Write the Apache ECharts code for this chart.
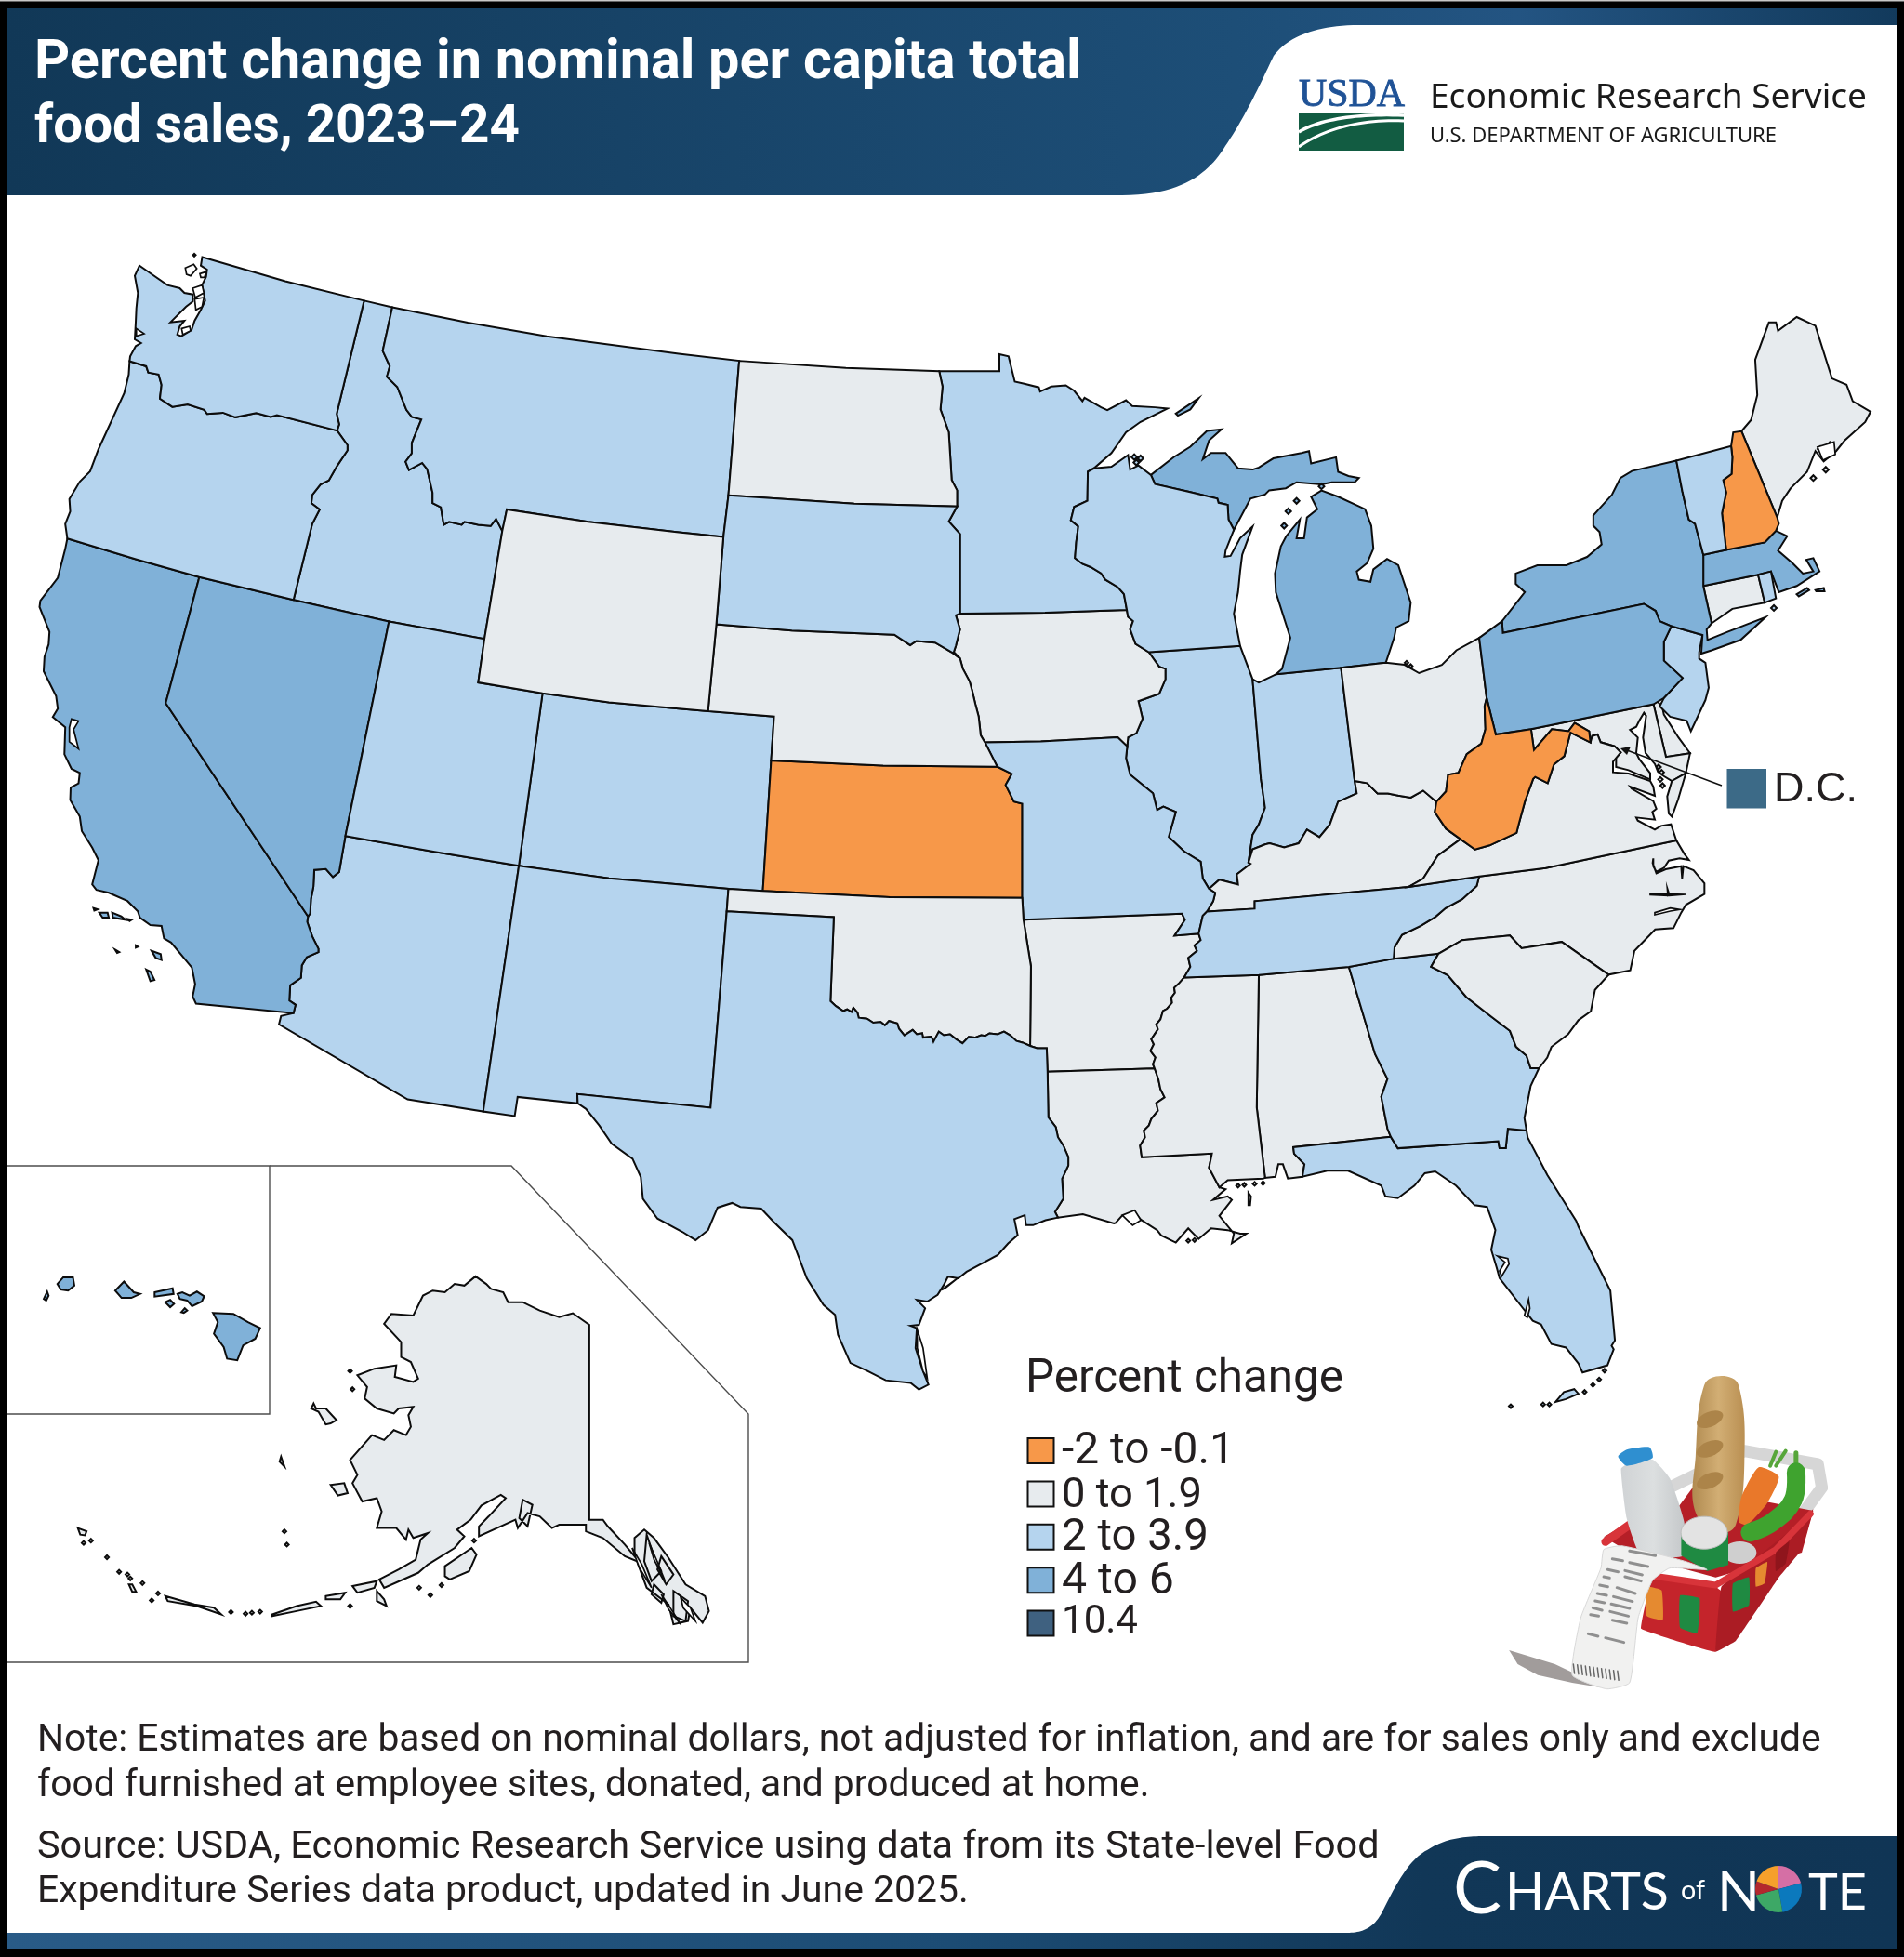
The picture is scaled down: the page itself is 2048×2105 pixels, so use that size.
<!DOCTYPE html>
<html><head><meta charset="utf-8">
<style>html,body{margin:0;padding:0;background:#000}#c{width:2048px;height:2105px}</style>
<script src="https://cdn.jsdelivr.net/npm/echarts@6/dist/echarts.min.js"></script>
</head><body><div id="c"></div>
<script>
// ---------- DATA ----------
const titleLines=["Percent change in nominal per capita total","food sales, 2023–24"];
const legendTitle="Percent change";
const binLabels=["-2 to -0.1","0 to 1.9","2 to 3.9","4 to 6","10.4"];
const binMin=[-2,0,2,4,10.4];
const binMax=[-0.1,1.9,3.9,6,10.4];
const binColors=["#f79849","#e7ebee","#b5d4ee","#80b1d8","#3f6180"];
const stateNames=["Alabama","Alaska","Arizona","Arkansas","California","Colorado","Connecticut","Delaware","District of Columbia","Florida","Georgia","Hawaii","Idaho","Illinois","Indiana","Iowa","Kansas","Kentucky","Louisiana","Maine","Maryland","Massachusetts","Michigan","Minnesota","Mississippi","Missouri","Montana","Nebraska","Nevada","New Hampshire","New Jersey","New Mexico","New York","North Carolina","North Dakota","Ohio","Oklahoma","Oregon","Pennsylvania","Rhode Island","South Carolina","South Dakota","Tennessee","Texas","Utah","Vermont","Virginia","Washington","West Virginia","Wisconsin","Wyoming"];
const stateValues=[1,1,3,1,5,3,1,1,10.4,3,3,5,3,3,3,1,-1,1,1,1,1,5,5,3,1,3,3,1,5,-1,3,3,5,1,1,1,1,3,5,3,1,3,3,3,3,3,1,3,-1,3,1];
const noteLines=["Note: Estimates are based on nominal dollars, not adjusted for inflation, and are for sales only and exclude","food furnished at employee sites, donated, and produced at home."];
const sourceLines=["Source: USDA, Economic Research Service using data from its State-level Food","Expenditure Series data product, updated in June 2025."];

// ---------- MAP OUTLINES (drawing geometry for the registered map) ----------
const conv=(ox,oy,sx,sy)=>a=>{const r=[];for(let i=0;i<a.length;i+=2)r.push([ox+a[i]/sx,oy+a[i+1]/sy]);return r;};
const Z2=conv(30,260,2.24,2.24),Z3=conv(700,360,2.24,2.24),Z4=conv(1350,320,2.24,2.24),Z5=conv(30,900,2.24,2.24),
      Z6=conv(600,950,2.24,2.8),Z7=conv(1200,950,2.24,2.613),Z8=conv(0,1240,1.912,2.8),Z9=conv(1080,1440,1.62,3),
      Z11=conv(1680,760,3,3),Z12=conv(130,265,3,3);
const arcs={};
const A=(n,...p)=>{arcs[n]=[].concat(...p);};
A('wa_n',Z2([420,37,620,95,810,142]));
A('id_n',Z2([810,142,878,158]));
A('mt_n',Z2([878,158,1060,195,1250,228,1568,270]),Z3([213,63]));
A('wa_coast',Z2([420,37]),Z12([258,62,278,75,275,98,262,125,272,175,258,205,238,240,228,270,195,290,182,285,190,258,205,240,160,245,210,195,232,178,232,155,205,150,190,135,150,125,100,90,60,62,45,95,55,150,50,200,48,245,45,300,65,312,48,322,30,355]),Z2([245,288]));
A('wa_or',Z2([245,288,285,300,290,315,315,320,322,345,318,378,348,398,385,392,425,405,432,415,470,412,500,423,550,413,585,422,600,418,745,455]));
A('wa_id',Z2([810,142,744,415,750,440,745,455]));
A('or_coast',Z2([245,288,243,320,232,365,170,500,150,553,125,578,100,620,102,650,90,680,95,715]));
A('or_id',Z2([745,455,770,490,770,503,745,540,725,575,705,585,685,610,683,630,703,645,685,680,640,863]));
A('or_ca',Z2([95,715,260,765,413,808]));
A('or_nv',Z2([413,808,640,863]));
A('id_nv',Z2([640,863,870,915]));
A('id_ut',Z2([870,915,1100,957]));
A('id_mt',Z2([878,158,855,263,872,300,865,325,890,350,912,405,925,422,948,428,925,485,925,510,910,530,918,550,950,533,962,548,975,605,975,630,995,640,1002,682,1015,675,1045,682,1052,675,1085,682,1115,685,1128,668,1143,697]));
A('id_wy',Z2([1143,697,1100,957]));
A('mt_wy',Z2([1143,697,1154,645,1350,675,1568,700]),Z3([175,487]));
A('wy_ut1',Z2([1100,957,1085,1062]));
A('wy_ut2',Z2([1085,1062,1240,1088]));
A('wy_co',Z2([1240,1088,1400,1110,1568,1125]),Z3([138,907]));
A('mt_nd',Z3([213,63,187,387]));
A('mt_sd',Z3([187,387,175,487]));
A('wy_sd',Z3([175,487,158,698]));
A('wy_ne',Z3([158,698,138,907]));
A('nd_n',Z3([213,63,470,80,695,88]));
A('nd_sd',Z3([187,387,490,407,738,414]));
A('nd_mn',Z3([695,88,703,125,698,180,718,235,722,300,725,350,738,375,738,414]));
A('sd_mn',Z3([738,414,718,450,745,480,745,672]));
A('sd_ia',Z3([745,672,735,676,745,710,735,750,730,765,745,780]));
A('ne_sd',Z3([158,698,340,713,587,723,625,748,640,738,685,742,725,765,745,780]));
A('ne_ia',Z3([745,780,752,805,768,835,775,860,782,890,790,920,795,965,805,982]));
A('ne_mo',Z3([805,982,835,1041]));
A('ks_mo',Z3([835,1041,870,1058,855,1085,875,1125,895,1130,895,1357]));
A('ne_ks',Z3([290,1026,560,1038,835,1041]));
A('ne_co',Z3([138,907,297,920]));
A('ne_co2',Z3([297,920,290,1026]));
A('co_ks',Z3([290,1026,270,1340]));
A('co_ok',Z3([270,1340,187,1335]));
A('co_nm',Z3([187,1335]),Z5([1400,100,1183,70]));
A('ut_co',Z2([1240,1088,1182,1502]));
A('ut_az',Z2([1182,1502,980,1470,765,1432]));
A('nv_ut',Z2([870,915,765,1432]));
A('nv_az',Z2([765,1432]),Z5([750,85,735,97,718,78,690,80,688,120,682,150,680,185,675,192]));
A('ca_nv',Z2([413,808,332,1112]),Z5([675,192]));
A('ca_az',Z5([675,192,673,205,685,240,700,270,700,278,672,290,660,310,658,340,632,358,630,395,645,405,640,425]));
A('ca_mx',Z5([640,425,405,402]));
A('ca_coast',Z2([95,715,90,740,72,810,30,865,28,880,52,940,50,970,40,1000,38,1035,68,1095,72,1125,60,1145,90,1170,88,1235,105,1270,125,1280,122,1305,103,1315,102,1345,125,1385,130,1420,155,1460,170,1490,155,1550]),Z5([155,115,165,128,195,135,240,155,265,180,270,195,295,213,322,215,328,245,345,255,395,315,403,355,397,385,405,402]));
A('az_nm',Z5([1183,70,1097,662]));
A('az_mx',Z5([640,425,610,432,605,452,915,633,1097,662]));
A('nm_ok',Z6([412,20,407,85]));
A('nm_tx',Z6([407,85,368,676,47,635,48,663]));
A('nm_mx',Z6([48,663]),Z5([1180,627,1173,673,1097,662]));
A('ok_tx',Z6([407,85,665,102,657,355,670,370,688,385,697,380,708,388,712,375,722,390,725,405,745,408,760,420,778,418,788,428,798,415,818,422,822,438,835,458,855,442,865,455,878,452,880,465,900,462,905,478,918,447,930,458,945,455,960,470,975,482,990,463,1005,465,1020,458,1030,460,1040,452,1060,455,1075,447,1090,458,1105,475,1120,480,1138,490]));
A('ok_ar',Z6([1122,110,1140,250,1138,490]));
A('ok_mo',Z6([1120,45,1122,110]));
A('ks_ok',Z6([495,25,800,42,1120,45]));
A('ar_tx',Z6([1138,490,1155,497,1178,497,1180,568]));
A('tx_la',Z6([1180,568,1182,705,1200,735,1205,765,1218,790,1230,825,1230,850,1215,890,1218,950,1198,990,1205,1007]));
A('tx_coast',Z6([1205,1007,1175,1015,1145,1030,1128,1030,1125,1000,1100,1012,1108,1060,1085,1085,1060,1120,985,1170,965,1190,940,1185,930,1210,915,1240,890,1260,865,1255,885,1280,870,1330,850,1333,865,1340,862,1400,880,1470,893,1510,870,1525,850,1505,790,1497,745,1468,705,1445,675,1360,668,1300,640,1270,600,1190,565,1075,520,1020,490,980,440,975,420,963,385,977,362,1045,332,1075,300,1050,240,1010,205,950,200,885,180,830,130,785,100,730,68,680,48,663]));
A('ia_n',Z3([745,672,950,670,1147,663]));
A('mn_n',Z3([695,88,840,88,840,47,862,52,877,113,900,118,935,127,938,137,965,125,1000,122,1020,135,1040,160,1045,152,1085,175,1100,182,1145,158,1160,172,1215,175,1245,178]));
A('mn_sup',Z3([1245,178,1180,210,1145,235,1110,285,1070,320,1053,330]));
A('mn_wi',Z3([1147,663,1140,625,1125,608,1095,590,1085,575,1060,560,1040,552,1022,538,1025,500,1030,462,1012,447,1020,415,1052,400,1053,330]));
A('wi_sup',Z3([1053,330,1068,322,1110,318,1150,290,1155,325,1175,315,1205,338]));
A('wi_up',Z3([1205,338,1215,360,1295,378,1365,395,1368,405,1390,410,1392,445,1405,470]));
A('up_coast',Z3([1205,338,1260,295,1300,270,1340,232,1375,228,1345,255,1330,300,1350,285,1385,285,1415,322,1450,325,1465,320,1500,298,1568,285]),Z4([130,370,135,400,195,385,200,420,225,430,250,435,240,445,185,445,160,450,100,445]),Z3([1530,370,1490,375,1480,385,1445,395,1405,470]));
A('wi_lake',Z3([1405,470,1385,520,1383,535,1397,533,1420,490,1450,462,1425,530,1420,570,1415,620,1405,672,1420,750]));
A('wi_il',Z3([1200,765,1420,750]));
A('ia_wi',Z3([1147,663,1150,680,1162,690,1155,710,1168,745,1200,765]));
A('ia_il',Z3([1200,765,1225,800,1240,805,1240,830,1225,865,1175,883,1185,925,1170,960,1150,970,1148,992]));
A('ia_s',Z3([805,982,940,980,1125,970,1148,992]));
A('il_mo',Z3([1148,992,1145,1020,1155,1060,1210,1105,1220,1145,1235,1137,1265,1150,1248,1210,1285,1245,1325,1270,1330,1310,1345,1335]));
A('il_ky',Z3([1345,1335,1370,1313,1415,1325,1412,1300,1445,1275,1440,1272]));
A('il_lake',Z3([1420,750,1450,830]));
A('il_in',Z3([1450,830,1470,1070,1480,1140,1465,1180,1450,1205,1440,1272]));
A('in_lake',Z3([1450,830,1465,838]),Z4([50,908]));
A('in_mi',Z4([50,908,207,892]));
A('in_oh',Z4([207,892,240,1165]));
A('in_ky',Z4([240,1165,245,1195,200,1215,180,1270,155,1300,125,1282,105,1315,70,1325,35,1315]),Z3([1480,1228,1450,1240,1440,1272]));
A('mo_ky',Z3([1345,1335,1360,1345,1355,1365,1340,1390]));
A('mo_tn',Z3([1320,1443,1330,1400,1340,1390]));
A('mo_ar',Z3([1320,1443,1262,1448,1287,1410,1280,1395,900,1410]));
A('ky_tn',Z3([1340,1390,1455,1383,1455,1365]),Z4([370,1420]));
A('tn_va',Z4([370,1420,540,1395]));
A('ar_tn',Z7([200,145,205,160,190,175,196,190,175,210,180,235,165,265]));
A('ar_ms',Z6([1505,285,1498,300,1485,315,1487,330,1478,345,1480,360,1468,378,1458,385,1452,410,1442,425,1446,440,1430,470,1436,485,1428,505,1440,525,1434,545,1438,558]));
A('ar_la',Z6([1180,568,1438,558]));
A('la_ms1',Z6([1438,558,1447,590,1452,620,1462,645,1442,662,1446,685,1430,710,1424,730,1412,745,1415,765,1403,790,1407,825]));
A('la_ms2',Z7([60,770,232,760,225,800,250,855]));
A('la_coast',Z7([250,855,265,860,235,890,270,880,280,890,250,935,285,985,280,1012,315,985,300,985,270,975,230,970,200,1000,175,970,145,1010,110,990,100,975,60,945,45,925,15,935,0,955]),Z6([1340,1025,1265,997,1205,1007]));
A('ms_coast',Z7([250,855,270,835,355,830,360,828]));
A('ms_al',Z7([345,258,340,630,360,828]));
A('tn_ms',Z7([165,265,345,258]));
A('tn_al',Z7([345,258,562,235]));
A('tn_ga',Z7([562,235,670,212]));
A('ga_nc',Z7([670,212,778,198]));
A('al_ga',Z7([562,235,625,480,655,550,640,600,655,690,663,713]));
A('al_fl',Z7([663,713,428,742,430,760,455,790,450,825]));
A('al_coast',Z7([360,828,385,825,392,790,403,790,415,830,450,825]));
A('fl_coast',Z7([450,825,510,808,560,808,640,850,650,880,680,885,720,850,745,815,770,810,820,850,865,905,895,910,915,975,905,1030,918,1080,925,1110,985,1200,1005,1230,1025,1240,1050,1295,1085,1305,1115,1350,1125,1375,1185,1355,1200,1310,1195,1300,1203,1285,1192,1145,1115,965,1110,950,1040,820,993,715,990,695]));
A('ga_fl',Z7([990,695,945,690,940,745,925,745,922,725,680,745,663,713]));
A('ga_coast',Z7([1020,520,1000,570,985,660,990,695]));
A('ga_sc',Z7([778,198,760,235,800,258,845,320,905,375,950,415,965,460,990,485,1000,520,1020,520]));
A('nc_sc',Z7([778,198,835,160,950,147,978,183,1075,165,1188,257]));
A('sc_coast',Z7([1188,257,1155,300,1145,360,1115,385,1090,425,1050,460,1040,490,1020,520]));
A('tn_nc',Z7([670,212,672,180,690,145,735,120,770,95,795,70,835,45,870,8]),Z4([540,1395]));
A('va_nc',Z4([540,1395,700,1375,1015,1308]));
A('nc_coast',Z11([372,432,395,475,410,495,380,490,345,497,330,520,305,533,295,515,295,490,293,505,305,538,335,525,385,515,388,555,392,515,425,528,460,570,460,605,400,640,385,665,360,715]),Z7([1300,130,1250,190,1240,245,1188,257]));
A('ky_va',Z4([370,1420,405,1400,440,1345,495,1305]));
A('ky_wv',Z4([495,1305,460,1280,433,1240,437,1215]));
A('oh_ky',Z4([437,1215,405,1188,375,1205,345,1200,320,1195,295,1195,270,1170,240,1165]));
A('mi_oh',Z4([207,892,315,880]));
A('oh_n',Z4([315,880,360,885,395,905,450,885,485,850,540,820]));
A('oh_pa',Z4([558,965,540,820]));
A('oh_wv',Z4([558,965,553,985,555,1040,545,1075,510,1100,490,1145,465,1150,460,1190,437,1215]));
A('pa_erie',Z4([540,820,595,780]));
A('ny_pa_w',Z4([595,780,597,808]));
A('ny_pa',Z4([597,808,937,738,965,755,975,780,1003,792]));
A('pa_nj',Z4([1003,792,985,830,985,875,1030,917,985,965]));
A('pa_de',Z4([985,965,960,980]));
A('pa_md',Z4([960,980,665,1040]));
A('pa_wv',Z4([665,1040,580,1053]));
A('pa_wv2',Z4([580,1053,558,965]));
A('wv_md',Z4([665,1040,672,1090,715,1040,755,1045,770,1025,805,1045,808,1072]));
A('wv_va',Z4([808,1072,760,1048,745,1105,720,1125,705,1170,675,1155,670,1160,650,1215,635,1270,630,1290,565,1320,530,1330,495,1305]));
A('va_pot',Z11([92,118,98,95,115,90,125,115,170,128,190,148]));
A('va_coast',Z11([190,148,165,178,165,212,215,216,285,240,295,258,300,288,220,258,225,265,295,305,305,330,292,340,300,365,240,358,245,368,300,397,320,385,352,380,372,432]));
A('md_de',Z4([960,980,990,1107]));
A('de_s',Z4([990,1107,1048,1098]));
A('de_e',Z4([1048,1098,1020,1060,985,1005,982,990,965,966,960,980]));
A('md_rest',Z11([408,148,400,215,355,240,330,225,310,210,300,185,270,150,262,100,272,30,265,20,250,45,240,65,220,75,245,100,240,150,250,170,285,215,285,235,215,205,175,195,175,165,190,148]));
A('nj_coast',Z4([985,965,975,985,1000,1010,1040,1020,1050,1045,1085,970,1093,940,1085,880,1070,870,1070,855,1078,813]));
A('nj_ny',Z4([1078,813,1003,792]));
A('ny_lakes',Z4([595,780,650,710,628,690,628,665,680,645,750,645,800,625,835,595,830,565,815,550,815,525,860,475,880,435,908,418,1015,393]));
A('ny_vt',Z4([1015,393,1030,470,1045,535,1060,545,1080,620]));
A('ny_ma',Z4([1080,620,1080,695]));
A('ny_ct',Z4([1080,695,1100,785]));
A('ny_li',Z4([1100,785,1088,800,1090,825,1140,805,1230,770,1170,825,1100,850,1075,858,1078,813]));
A('vt_n',Z4([1015,393,1147,358]));
A('vt_nh',Z4([1147,358,1150,385,1148,425,1128,440,1135,470,1125,520,1135,608]));
A('ma_vt',Z4([1080,620,1135,608]));
A('nh_n',Z4([1147,358,1152,325,1172,322]));
A('nh_me',Z4([1172,322,1258,530]));
A('nh_coast',Z4([1258,530,1262,545,1255,562]));
A('ma_nh',Z4([1135,608,1228,590,1255,562]));
A('me_coast',Z4([1172,322,1195,295,1210,235,1205,150,1238,60,1255,60,1260,80,1305,47,1350,68,1390,195,1425,210,1440,250,1483,275,1470,300,1420,345,1400,370,1370,395,1350,370,1330,420,1290,460,1270,490,1258,530]));
A('ma_coast',Z4([1255,562,1282,575,1260,610,1295,640,1320,665,1345,660,1328,632,1345,628,1360,660,1305,695,1262,710,1243,660]));
A('ma_ri',Z4([1243,660,1212,668]));
A('ma_ct',Z4([1212,668,1080,695]));
A('ct_ri',Z4([1212,668,1228,735]));
A('ct_coast',Z4([1228,735,1150,750,1100,785]));
A('ri_e',Z4([1243,660,1255,725,1228,735]));
A('mi_coast',Z4([315,880,335,820,340,795,370,780,375,735,345,645,318,630,285,655,278,685,250,680,245,660,270,640,285,605,280,550,265,510,200,480,160,465,135,480,150,510,125,530,118,580,100,580,108,535,75,575,62,600,48,665,50,710,85,820,65,895,50,908]));

// snap arc ends that meet at one junction
(function(){const ends=[];Object.values(arcs).forEach(a=>{[0,a.length-1].forEach(i=>{
  const p=a[i];const h=ends.find(e=>Math.hypot(e[0]-p[0],e[1]-p[1])<4.5);
  if(h){a[i]=h;}else ends.push(p);});});})();

function ring(names){
  const out=[];
  names.forEach((n,k)=>{
    let a=arcs[n];
    if(k===0){
      const nx=arcs[names[1]];const e=a[a.length-1],s=a[0];
      const d=p=>Math.min(Math.hypot(nx[0][0]-p[0],nx[0][1]-p[1]),Math.hypot(nx[nx.length-1][0]-p[0],nx[nx.length-1][1]-p[1]));
      if(d(s)<d(e))a=a.slice().reverse();
    }else{
      const l=out[out.length-1];
      if(Math.hypot(a[0][0]-l[0],a[0][1]-l[1])>Math.hypot(a[a.length-1][0]-l[0],a[a.length-1][1]-l[1]))a=a.slice().reverse();
    }
    out.push(...a);
  });
  return out;
}
const dots=(Z,list,r)=>{const o=[];Z(list).forEach(p=>o.push([[p[0]-r,p[1]],[p[0],p[1]-r],[p[0]+r,p[1]],[p[0],p[1]+r]]));return o;};
const rings={
 "Washington":[['wa_n','wa_id','wa_or','wa_coast']],
 "Oregon":[['wa_or','or_id','or_nv','or_ca','or_coast']],
 "California":[['or_ca','ca_nv','ca_az','ca_mx','ca_coast']],
 "Nevada":[['or_nv','id_nv','nv_ut','nv_az','ca_nv']],
 "Idaho":[['id_n','id_mt','id_wy','id_ut','id_nv','or_id','wa_id']],
 "Montana":[['mt_n','mt_nd','mt_sd','mt_wy','id_mt']],
 "Wyoming":[['mt_wy','wy_sd','wy_ne','wy_co','wy_ut2','wy_ut1','id_wy']],
 "Utah":[['id_ut','wy_ut1','wy_ut2','ut_co','ut_az','nv_ut']],
 "Arizona":[['ut_az','az_nm','az_mx','ca_az','nv_az']],
 "Colorado":[['wy_co','ne_co','ne_co2','co_ks','co_ok','co_nm','ut_co']],
 "New Mexico":[['co_nm','nm_ok','nm_tx','nm_mx','az_nm']],
 "North Dakota":[['nd_n','nd_mn','nd_sd','mt_nd']],
 "South Dakota":[['nd_sd','sd_mn','sd_ia','ne_sd','wy_sd','mt_sd']],
 "Nebraska":[['ne_sd','ne_ia','ne_mo','ne_ks','ne_co2','ne_co','wy_ne']],
 "Kansas":[['ne_ks','ks_mo','ks_ok','co_ks']],
 "Oklahoma":[['nm_ok','ok_tx','ok_ar','ok_mo','ks_ok','co_ok']],
 "Texas":[['nm_tx','ok_tx','ar_tx','tx_la','tx_coast']],
 "Minnesota":[['nd_mn','mn_n','mn_sup','mn_wi','ia_n','sd_mn']],
 "Iowa":[['ia_n','ia_wi','ia_il','ia_s','ne_ia','sd_ia']],
 "Missouri":[['ia_s','il_mo','mo_ky','mo_tn','mo_ar','ok_mo','ks_mo','ne_mo']],
 "Arkansas":[['mo_ar','ar_tn','ar_ms','ar_la','ar_tx','ok_ar']],
 "Louisiana":[['ar_la','la_ms1','la_ms2','la_coast','tx_la']],
 "Wisconsin":[['mn_wi','wi_sup','wi_up','wi_lake','wi_il','ia_wi']],
 "Illinois":[['wi_il','il_lake','il_in','il_ky','il_mo','ia_il']],
 "Michigan":[['in_mi','mi_oh','mi_coast'],['wi_up','up_coast']],
 "Indiana":[['in_lake','in_mi','in_oh','in_ky','il_in']],
 "Ohio":[['mi_oh','oh_n','oh_pa','oh_wv','oh_ky','in_oh']],
 "Kentucky":[['il_ky','in_ky','oh_ky','ky_wv','ky_va','ky_tn','mo_ky']],
 "Tennessee":[['ky_tn','tn_va','tn_nc','tn_ga','tn_al','tn_ms','ar_tn','mo_tn']],
 "Mississippi":[['la_ms1','ar_ms','tn_ms','ms_al','ms_coast','la_ms2']],
 "Alabama":[['tn_al','al_ga','al_fl','al_coast','ms_al']],
 "Georgia":[['tn_ga','ga_nc','ga_sc','ga_coast','ga_fl','al_ga']],
 "Florida":[['ga_fl','al_fl','fl_coast']],
 "South Carolina":[['ga_sc','nc_sc','sc_coast']],
 "North Carolina":[['tn_nc','va_nc','nc_coast','nc_sc','ga_nc']],
 "Virginia":[['ky_va','tn_va','va_nc','va_coast','va_pot','wv_va']],
 "West Virginia":[['pa_wv2','pa_wv','wv_md','wv_va','ky_wv','oh_wv']],
 "Maryland":[['pa_md','md_de','de_s','md_rest','va_pot','wv_md']],
 "Delaware":[['md_de','de_s','de_e']],
 "Pennsylvania":[['pa_erie','ny_pa_w','ny_pa','pa_nj','pa_de','pa_md','pa_wv','pa_wv2','oh_pa']],
 "New Jersey":[['pa_nj','nj_coast','nj_ny']],
 "New York":[['ny_pa_w','ny_lakes','ny_vt','ny_ma','ny_ct','ny_li','nj_ny','ny_pa']],
 "Vermont":[['vt_n','vt_nh','ma_vt','ny_vt']],
 "New Hampshire":[['nh_n','nh_me','nh_coast','ma_nh','vt_nh']],
 "Maine":[['nh_me','me_coast']],
 "Massachusetts":[['ma_vt','ma_nh','ma_coast','ma_ri','ma_ct','ny_ma']],
 "Connecticut":[['ma_ct','ct_ri','ct_coast','ny_ct']],
 "Rhode Island":[['ma_ri','ri_e','ct_ri']]
};
const extra={
 "Alaska":[Z8([978,372,1000,395,1010,410,1035,420,1045,450,1075,450,1110,475,1150,495,1178,483,1212,518,1212,1105,1240,1105,1250,1125,1285,1180,1305,1215,1305,1160,1325,1135,1345,1160,1375,1220,1410,1300,1450,1335,1458,1380,1445,1415,1420,1370,1415,1410,1385,1420,1375,1360,1330,1310,1310,1230,1285,1215,1240,1160,1205,1140,1205,1120,1150,1120,1135,1130,1110,1095,1085,1085,1065,1130,1060,1105,985,1155,985,1125,1005,1095,1040,1040,1030,1030,990,1062,968,1105,940,1135,955,1155,935,1190,880,1240,860,1265,790,1310,780,1285,820,1255,855,1225,865,1165,880,1145,850,1160,840,1135,835,1165,815,1130,790,1130,775,1130,785,1080,775,1040,745,1050,725,995,735,970,720,925,765,850,790,865,810,835,835,850,845,825,840,790,850,765,820,770,810,785,775,770,750,740,755,705,735,670,770,650,815,640,812,675,850,690,860,680,845,630,825,615,825,570,790,515,805,485,850,490,870,430,890,415,915,420,935,395,955,400]),
  Z8([645,755,650,770,670,770,692,805,680,815,670,818,655,780,640,770]),Z8([680,1000,708,995,715,1025,695,1032]),Z8([578,915,585,945,575,930]),
  Z8([915,1245,970,1190,980,1210,965,1260,925,1285,915,1275]),Z8([670,1335,710,1325,700,1345,670,1345]),Z8([725,1305,775,1290,770,1310,735,1325]),
  Z8([560,1390,610,1365,650,1352,660,1365,610,1380,560,1395]),Z8([340,1335,400,1360,440,1370,455,1390,405,1365,345,1350]),Z8([160,1130,178,1140,175,1152,165,1150]),
  Z8([1330,1150,1345,1215,1360,1260,1340,1290,1325,1230]),Z8([1360,1215,1385,1270,1370,1300,1352,1255]),Z8([1385,1320,1415,1350,1410,1410,1385,1395]),Z8([1345,1300,1365,1330,1360,1355,1340,1330]),Z8([1075,1045,1095,1060,1085,1125,1068,1100]),
  Z8([775,1320,790,1345,795,1365,775,1350]),Z8([265,1300,272,1300,280,1322,272,1322]),
  ...dots(Z8,[172,1175,187,1168,220,1218,245,1262,262,1270,268,1282,293,1296,325,1327,312,1348,475,1383,505,1388,518,1385,535,1382,585,1140,590,1180,885,1332,862,1310,720,1365,725,712,720,657,975,1168,908,1302],2)],
 "Hawaii":[Z8([90,440,97,418,100,430,95,445]),Z8([118,395,130,375,150,375,153,400,140,415,125,412]),Z8([237,415,255,388,275,420,288,425,270,437,250,437]),Z8([318,420,355,408,357,425,318,433]),Z8([340,450,350,443,358,455,350,465]),Z8([365,425,375,420,390,430,405,418,420,432,415,448,395,462,385,445,370,440]),Z8([373,480,380,468,385,475,378,482]),Z8([438,482,480,485,510,510,535,528,525,560,500,580,488,625,467,620,460,585,440,545,448,510])],
 "California":[Z5([158,172,168,175,160,178]),Z5([172,183,192,183,195,195,180,195]),Z5([203,183,225,192,235,200,205,195]),Z5([240,198,250,200,245,203]),Z5([298,275,320,283,322,297,308,292]),Z5([285,320,295,325,305,345,295,348]),Z5([210,272,220,278,215,280]),Z5([260,262,265,265,260,267])],
 "Washington":dots(Z12,[237,28],1.5),
 "Michigan":[Z3([1265,190,1320,153,1300,180,1270,195]),...dots(Z4,[100,490,80,515,70,550,160,455],3)],
 "Wisconsin":dots(Z3,[1165,295,1180,298,1170,308],3),
 "Massachusetts":[Z4([1305,715,1330,700,1335,705,1310,720]),Z4([1350,705,1370,700,1372,708,1352,708])],
 "Maine":dots(Z4,[1362,365,1385,355,1375,415,1345,435],3),
 "Rhode Island":dots(Z4,[1250,748],3),
 "Florida":[Z7([1060,1458,1080,1430,1105,1422,1115,1435,1085,1450]),...dots(Z7,[952,1470,1030,1465,1045,1465,1130,1430,1150,1410,1165,1395,1178,1370],2)],
 "Louisiana":dots(Z7,[295,850,310,848,335,845,355,843,175,1005,190,1003],2).concat([Z7([320,870,326,880,324,905,320,905])]),
 "Ohio":dots(Z4,[365,880,375,888],2),
 "Virginia":[Z11([355,240,400,215,375,300,355,355,345,345,340,290])],
 "Maryland":dots(Z11,[318,235,325,255,312,195,322,212],2.5),
 "District of Columbia":[Z11([175,122,190,128,190,140,178,135])]
};
// water shapes laid over the land: white, with the same outline
const waterPolys=[
 Z12([208,70,235,58,245,72,225,95,212,90]),Z12([255,88,275,82,270,100,258,100]),Z12([232,135,262,125,268,150,240,165]),Z12([238,170,268,165,262,195,242,205]),Z12([50,265,75,282,50,290]),Z12([196,265,222,258,225,272,200,285]),
 Z2([105,1150,122,1155,110,1175,122,1222,100,1205,100,1170]),
 Z7([920,1048,945,1055,948,1070,930,1105,925,1090,938,1065]),Z7([985,1215,995,1170,998,1195,992,1220]),
 Z6([866,1345,880,1400,890,1490,880,1470,866,1400]),Z6([925,1225,965,1188,935,1218]),Z6([1360,1000,1390,985,1405,1015,1385,1030]),
 Z11([285,603,345,605,400,606,345,610,285,607]),Z11([300,665,350,650,380,655,350,660,300,672]),Z11([340,585,347,607,342,610]),
 Z4([1355,360,1395,348,1398,378,1368,392]),
 Z8([1335,1175,1350,1225,1368,1290,1345,1225]),Z8([1300,1190,1320,1240,1340,1310,1315,1250]),Z8([1360,1330,1385,1385,1400,1420,1375,1375]),Z8([1400,1340,1420,1370,1430,1410,1405,1370])
];
const features=stateNames.map(name=>{
  const polys=[];
  (rings[name]||[]).forEach(r=>polys.push(ring(r)));
  (extra[name]||[]).forEach(p=>polys.push(p));
  return {type:'Feature',properties:{name},geometry:{type:'MultiPolygon',coordinates:polys.map(p=>{const c=p.map(q=>[q[0],-q[1]]);c.push(c[0]);return [c];})}};
});
echarts.registerMap('usStates',{type:'FeatureCollection',features});
echarts.registerMap('usWater',{type:'FeatureCollection',features:[{type:'Feature',properties:{name:'water'},geometry:{type:'MultiPolygon',coordinates:waterPolys.map(p=>{const c=p.map(q=>[q[0],-q[1]]);c.push(c[0]);return [c];})}}]});

// ---------- TEXT HELPERS ----------
const ctx=document.createElement('canvas').getContext('2d');
const fitSize=(t,fam,wt,w)=>{ctx.font=wt+' 100px "'+fam+'"';return 100*w/ctx.measureText(t).width;};
const body='Roboto';
const mid={'Roboto':0.20,'Noto Sans':0.27,'Lato':0.26};
const g=[];
function T(t,x,base,w,fam,wt,col,z,extraStyle){const fs=fitSize(t,fam,wt,w);
  g.push({type:'text',z:z||3,silent:true,style:Object.assign({text:t,x:x,y:base-(mid[fam]||0.345)*fs,fill:col||'#231f20',fontSize:fs,fontFamily:fam,fontWeight:wt,align:'left',verticalAlign:'middle'},extraStyle||{})});return fs;}
// flatten a small M/H/V/C/Z outline into points for a polygon or polyline
function flatten(d){
  const t=d.match(/[MHVCZ]|-?[\d.]+/g);let i=0,x=0,y=0;const pts=[];let c='';
  const n=()=>parseFloat(t[i++]);
  while(i<t.length){
    if(/[MHVCZ]/.test(t[i]))c=t[i++];
    if(c==='Z')break;
    if(c==='M'){x=n();y=n();pts.push([x,y]);}
    else if(c==='H'){x=n();pts.push([x,y]);}
    else if(c==='V'){y=n();pts.push([x,y]);}
    else if(c==='C'){const a=n(),b=n(),e=n(),f=n(),g2=n(),h=n();
      for(let k=1;k<=24;k++){const s=k/24,u=1-s;pts.push([u*u*u*x+3*u*u*s*a+3*u*s*s*e+s*s*s*g2,u*u*u*y+3*u*u*s*b+3*u*s*s*f+s*s*s*h]);}
      x=g2;y=h;}
  }
  return pts;
}
const pathEl=(d,fill,z,st)=>g.push({type:st?'polyline':'polygon',silent:true,z:z,shape:{points:flatten(d)},style:Object.assign({fill:st?'none':fill},st||{})});
const grad=(stops,x2,y2)=>({type:'linear',x:0,y:0,x2:x2==null?1:x2,y2:y2||0,colorStops:stops.map(s=>({offset:s[0],color:s[1]}))});

// page frame
g.push({type:'rect',z:0,silent:true,shape:{x:8,y:9,width:2032,height:2087},style:{fill:'#fff'}});
g.push({type:'rect',z:0,silent:true,shape:{x:0,y:0,width:2048,height:1.5},style:{fill:'#c8c8c8'}});
pathEl('M8,9 H2040 V27 H1468 C1415,26 1385,40 1370,60 C1358,85 1340,125 1318,157 C1305,178 1280,210 1207,210 H8 Z',
  grad([[0,'#113857'],[0.65,'#1d4e77'],[0.8,'#235482'],[1,'#123a5c']]),1);
pathEl('M8,2079 H1449 C1468,2079 1478,2072 1486,2058 C1500,2030 1515,2000 1535,1990 C1555,1977 1575,1975 1600,1975 H2040 V2096 H8 Z',
  grad([[0,'#295b87'],[0.5,'#1c4c74'],[0.75,'#113757'],[1,'#103555']]),1);

// USDA block
T('USDA',1397,117,114,'Liberation Serif','normal','#1f5296',3,{stroke:'#1f5296',lineWidth:0.9});
g.push({type:'rect',z:2,silent:true,shape:{x:1397,y:122,width:113,height:40},style:{fill:'#125c42'}});
pathEl('M1397,142 C1420,128 1460,122 1510,124',null,3,{stroke:'#fff',lineWidth:3.5});
pathEl('M1397,158 C1425,138 1465,128 1510,130',null,3,{stroke:'#fff',lineWidth:3});
T('Economic Research Service',1538,115,470,'Noto Sans','normal','#1a1a1a');
T('U.S. DEPARTMENT OF AGRICULTURE',1538,153,373,'Noto Sans','normal','#1a1a1a');

// insets
const frame={type:'polyline',z:2,silent:true,style:{fill:'none',stroke:'#4d4d4d',lineWidth:1.4}};
g.push(Object.assign({},frame,{shape:{points:[[8,1254],[290,1254],[290,1521],[8,1521]]}}));
g.push(Object.assign({},frame,{shape:{points:[[290,1254],[550,1254],[805,1521],[805,1788],[8,1788]]}}));

// legend
T(legendTitle,1103,1495,342,body,'normal');
binLabels.forEach((lab,i)=>{
  const y=1547+i*46.4;
  g.push({type:'rect',z:3,silent:true,shape:{x:1105.5,y:y,width:28,height:27},style:{fill:binColors[i],stroke:'#111',lineWidth:2}});
  const w=[186,151,158,121,82][i];
  T(lab,1142,y+(i===4?21:25),w,body,'normal');
});

// D.C. callout
g.push({type:'rect',z:3,silent:true,shape:{x:1857.5,y:827,width:42.5,height:42.5},style:{fill:'#3c6a87'}});
T('D.C.',1908,865,90,'Liberation Sans','normal');
g.push({type:'line',z:5,silent:true,shape:{x1:1750,y1:807,x2:1852,y2:845},style:{stroke:'#111',lineWidth:1.6}});
g.push({type:'polygon',z:5,silent:true,shape:{points:[[1743,805],[1754,803],[1750,812]]},style:{fill:'#111'}});

// notes
T(noteLines[0],40,1881,1919,body,'normal');
T(noteLines[1],40,1930,1197,body,'normal');
T(sourceLines[0],40,1996,1444,body,'normal');
T(sourceLines[1],40,2044,1002,body,'normal');

// Charts of Note
T('C',1563,2053,52,'Lato','normal','#fff');
T('HARTS',1619,2051,176,'Lato','normal','#fff');
T('of',1808,2041,26,'Lato','normal','#fff');
T('N',1847,2051,46,'Lato','normal','#fff');
T('TE',1945,2051,63,'Lato','normal','#fff');
const deg=d=>d*Math.PI/180;
[[-90,-15,'#d56fa5'],[-15,80,'#0b79bd'],[80,165,'#3da866'],[165,200,'#b3282d'],[200,270,'#f6a02b']].forEach(s=>
 g.push({type:'sector',z:3,silent:true,shape:{cx:1913,cy:2032,r:25,r0:0,startAngle:deg(s[0]),endAngle:deg(s[1])},style:{fill:s[2]}}));

// basket illustration
const poly=(Z,pts,fill,z,sm,st)=>g.push({type:'polygon',silent:true,z:z,shape:{points:Z(pts),smooth:sm||0},style:Object.assign({fill:fill},st||{})});
const line=(Z,pts,col,w,z,sm)=>g.push({type:'polyline',silent:true,z:z,shape:{points:Z(pts),smooth:sm||0},style:{fill:'none',stroke:col,lineWidth:w,lineCap:'round',lineJoin:'round'}});
const oval=(cx,cy,rx,ry,fill,z,rot,st)=>{const q=Z9([cx,cy])[0];g.push({type:'ellipse',silent:true,z:z,x:q[0],y:q[1],rotation:rot||0,shape:{cx:0,cy:0,rx:rx,ry:ry},style:Object.assign({fill:fill},st||{})});};
poly(Z9,[880,1005,960,1050,1000,1085,1040,1125,990,1110,930,1085,895,1050],'#a19c9b',3);
line(Z9,[1160,480,1290,362,1418,405,1425,480,1350,670],'#d6d6d6',13,3);
poly(Z9,[1045,640,1090,590,1150,605,1200,480,1410,555,1390,690,1240,770,1100,700],'#b51f27',3);
poly(Z9,[1205,380,1220,150,1250,120,1280,150,1290,400,1275,600,1250,625,1205,560],grad([[0,'#b08a50'],[0.5,'#d2ae74'],[1,'#b98f52']]),4,0.4);
oval(1230,260,15,8,'#ac8449',5,0.4);oval(1230,355,15,8,'#ac8449',5,0.4);oval(1230,458,15,8,'#ac8449',5,0.4);
poly(Z9,[1315,415,1350,445,1330,530,1295,600,1280,590,1285,510],'#e9782a',4,0.2);
line(Z9,[1335,410,1345,365],'#57a63a',4,4);line(Z9,[1345,410,1362,362],'#57a63a',4,4);line(Z9,[1380,430,1380,368],'#57a63a',5,4);
line(Z9,[1380,430,1375,520,1340,590,1300,625],'#3fa32f',20,5,0.4);
poly(Z9,[1075,420,1085,405,1130,390,1160,450,1185,590,1185,700,1110,700,1085,580],grad([[0,'#d0d3d5'],[0.5,'#dcdfe0'],[1,'#c4c7c9']]),5,0.15);
poly(Z9,[1070,380,1085,358,1125,350,1130,385,1085,410],'#2f8fd0',6,0.2);
oval(1282,690,18,12,'#cfcfcf',5);
poly(Z9,[1180,625,1262,625,1262,730,1225,750,1180,700],'#1f8a42',6);
oval(1220,626,25,17.5,'#e3e3e3',7,0,{stroke:'#bdbdbd',lineWidth:1});
poly(Z9,[1130,770,1240,800,1250,815,1240,1010,1110,935],'#c4242b',7,0.05);
poly(Z9,[1250,800,1390,590,1410,550,1390,680,1350,770,1275,975,1240,1010],'#ab1c24',7,0.05);
line(Z9,[1130,765,1240,795,1345,680,1405,565],'#d8343a',7,8);
line(Z9,[1048,655,1090,600],'#d8343a',9,4);
poly(Z9,[1178,828,1212,838,1208,950,1178,932],'#1f8a42',8,0.1);poly(Z9,[1120,800,1146,812,1148,908,1120,895],'#e58a30',8,0.1);
poly(Z9,[1270,790,1298,770,1298,860,1270,880],'#1f8a42',8,0.1);poly(Z9,[1310,740,1330,720,1325,790,1310,800],'#e58a30',8,0.1);poly(Z9,[1345,690,1368,655,1362,725,1345,750],'#8f151c',8,0.1);
poly(Z9,[1045,680,1075,668,1130,690,1190,720,1225,745,1160,740,1130,780,1105,900,1090,1110,1050,1130,990,1085,1005,900,1040,740],'#f1f1f0',9,0.15,{stroke:'#d9d9d9',lineWidth:1});
[[1090,685,1135,700],[1060,710,1078,716],[1090,722,1122,735],[1052,745,1070,752],[1082,748,1112,762],[1045,768,1055,772],[1082,768,1110,782],[1038,795,1052,800],[1068,803,1100,822],[1034,822,1050,828],[1062,832,1095,848],[1030,846,1046,852],[1058,856,1090,870],[1026,868,1042,876],[1056,880,1088,895],[1022,890,1036,895],[1060,908,1085,918],[1018,952,1035,960],[1048,965,1080,980]].forEach(s=>line(Z9,s,'#8f8f8f',3,10));
for(let i=0;i<12;i++){const x=992+i*7;line(Z9,[x,1050+i*2,x+2,1080+i*2],'#666',1.5,10);}

// ---------- CHART ----------
const chart=echarts.init(document.getElementById('c'),null,{renderer:'canvas',width:2048,height:2105});
const title1=fitSize(titleLines[0],'Roboto','bold',1126);
const title2=fitSize(titleLines[1],'Roboto','bold',522);
const titleRich=s=>({color:'#fff',fontFamily:'Roboto',fontWeight:'bold',fontSize:s,lineHeight:70});
const mapBox={left:0,top:0,width:2048,height:2105,aspectScale:1,boundingCoords:[[0,0],[2048,-2105]],roam:false,silent:true,label:{show:false},emphasis:{disabled:true},select:{disabled:true}};
chart.setOption({
  animation:false,
  backgroundColor:'#000',
  title:{text:'{a|'+titleLines[0]+'}\n{b|'+titleLines[1]+'}',left:37,top:34,padding:0,itemGap:0,textStyle:{color:'#fff',fontFamily:'Roboto',fontWeight:'bold',fontSize:title1,lineHeight:70,rich:{a:titleRich(title1),b:titleRich(title2)}}},
  visualMap:{type:'piecewise',show:false,seriesIndex:0,pieces:binLabels.map((l,i)=>({min:binMin[i],max:binMax[i],label:l,color:binColors[i]}))},
  graphic:{elements:g},
  series:[
   Object.assign({type:'map',map:'usStates',itemStyle:{borderColor:'#0c0c0c',borderWidth:2,areaColor:'#e7ebee'},
     data:stateNames.map((n,i)=>({name:n,value:stateValues[i]}))},mapBox),
   Object.assign({type:'map',map:'usWater',itemStyle:{borderColor:'#0c0c0c',borderWidth:1.7,areaColor:'#fff'},data:[]},mapBox)
  ]
});
</script></body></html>
